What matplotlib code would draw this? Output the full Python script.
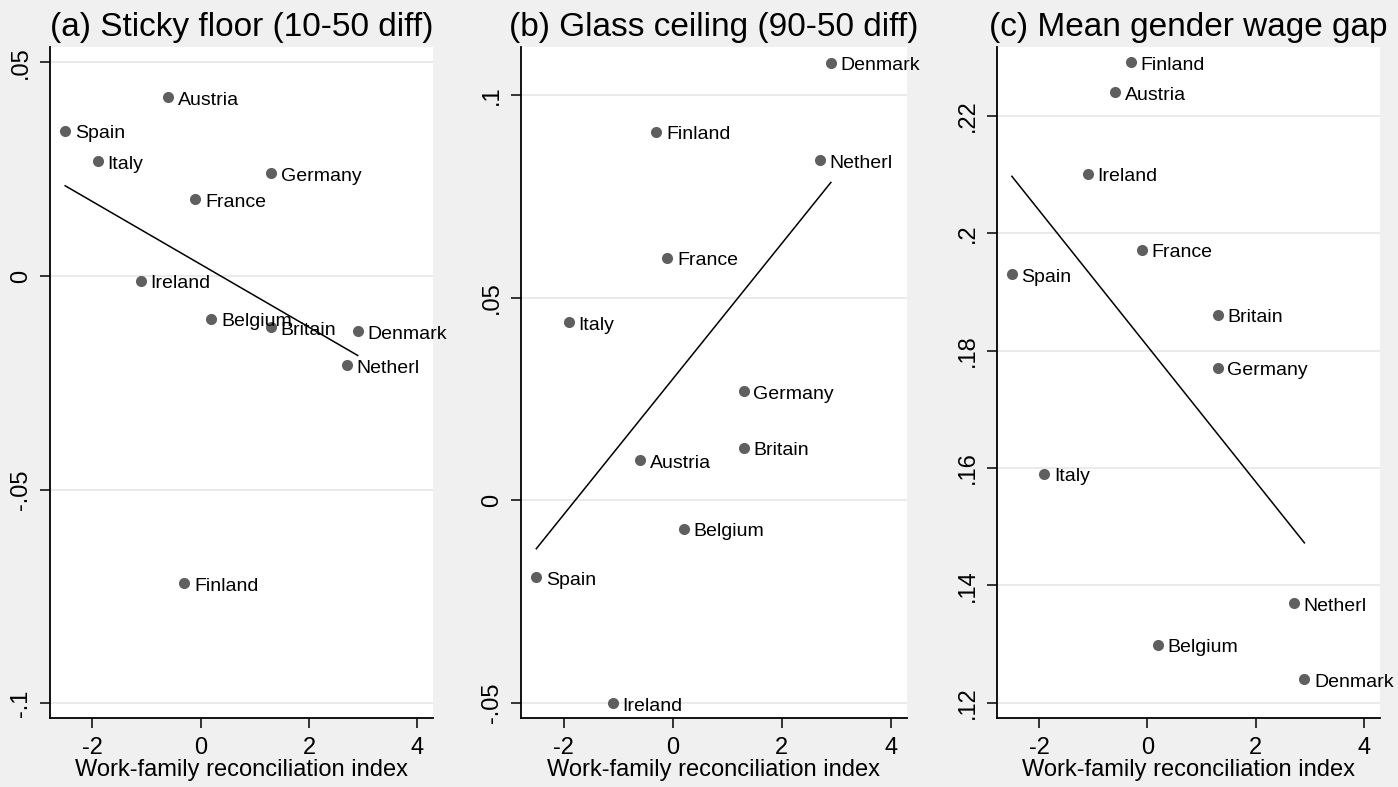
import numpy as np
import matplotlib
matplotlib.use("Agg")
import matplotlib.pyplot as plt

plt.rcParams['font.family'] = ['Liberation Sans', 'DejaVu Sans']

# data
countries = ['Austria', 'Belgium', 'Britain', 'Denmark', 'Finland', 'France',
             'Germany', 'Ireland', 'Italy', 'Netherl', 'Spain']
wfi = [-0.6, 0.2, 1.3, 2.9, -0.3, -0.1, 1.3, -1.1, -1.9, 2.7, -2.5]

sticky = [0.0419, -0.0100, -0.0120, -0.0129, -0.0718, 0.0180,
          0.0241, -0.0011, 0.0269, -0.0208, 0.0340]
glass = [0.0100, -0.0070, 0.0130, 0.1080, 0.0910, 0.0599,
         0.0270, -0.0500, 0.0440, 0.0840, -0.0189]
meangap = [0.2240, 0.1299, 0.1861, 0.1240, 0.2291, 0.1972,
           0.1771, 0.2101, 0.1590, 0.1370, 0.1930]

titles = ['(a) Sticky floor (10-50 diff)', '(b) Glass ceiling (90-50 diff)',
          '(c) Mean gender wage gap']
xticks = [-2, 0, 2, 4]
yticks_a = [-0.1, -0.05, 0, 0.05]
ylabels_a = ['-.1', '-.05', '0', '.05']
yticks_b = [-0.05, 0, 0.05, 0.1]
ylabels_b = ['-.05', '0', '.05', '.1']
yticks_c = [0.12, 0.14, 0.16, 0.18, 0.2, 0.22]
ylabels_c = ['.12', '.14', '.16', '.18', '.2', '.22']

W, H = 1398, 787
fig = plt.figure(figsize=(W / 100, H / 100), dpi=100, facecolor='#f0f0f0')

panels = [
    (sticky, yticks_a, ylabels_a, (-0.1034, 0.0536), 50, 433),
    (glass, yticks_b, ylabels_b, (-0.0537, 0.1119), 521, 906.7),
    (meangap, yticks_c, ylabels_c, (0.1174, 0.2317), 996.7, 1379.7),
]
top_px, bot_px = 47, 718

for (yv, yt, yl, ylim, x0, x1), title in zip(panels, titles):
    ax = fig.add_axes([x0 / W, (H - bot_px) / H, (x1 - x0) / W, (bot_px - top_px) / H])
    ax.set_facecolor('white')
    ax.set_xlim(-2.78, 4.29)
    ax.set_ylim(*ylim)
    ax.set_yticks(yt)
    ax.set_yticklabels(yl)
    ax.set_xticks(xticks)
    ax.set_xticklabels([str(t) for t in xticks])
    ax.grid(axis='y', color='#e6e6e6', lw=1.2)
    ax.set_axisbelow(True)
    for s in ['top', 'right']:
        ax.spines[s].set_visible(False)
    for s in ['left', 'bottom']:
        ax.spines[s].set_linewidth(1.3)
    ax.tick_params(axis='both', length=7, width=1.1, labelsize=17, direction='out')
    ax.tick_params(axis='x', pad=7)
    ax.tick_params(axis='y', pad=6)
    for lab in ax.get_yticklabels():
        lab.set_rotation(90)
        lab.set_va('center')

    ax.scatter(wfi, yv, s=64, color='#5f5f5f', zorder=3, linewidths=0)
    for c, xv, yy in zip(countries, wfi, yv):
        ax.annotate(c, (xv, yy), xytext=(7, -5.5), textcoords='offset points',
                    ha='left', va='baseline', fontsize=14, color='black',
                    annotation_clip=False, zorder=4)

    b, a = np.polyfit(wfi, yv, 1)
    xs = np.array([min(wfi), max(wfi)])
    ax.plot(xs, a + b * xs, color='black', lw=1.1, zorder=2)

    ax.set_title(title, fontsize=24, pad=8)
    ax.set_xlabel('Work-family reconciliation index', fontsize=17, labelpad=0)

fig.savefig('out.png', dpi=100, facecolor=fig.get_facecolor())
